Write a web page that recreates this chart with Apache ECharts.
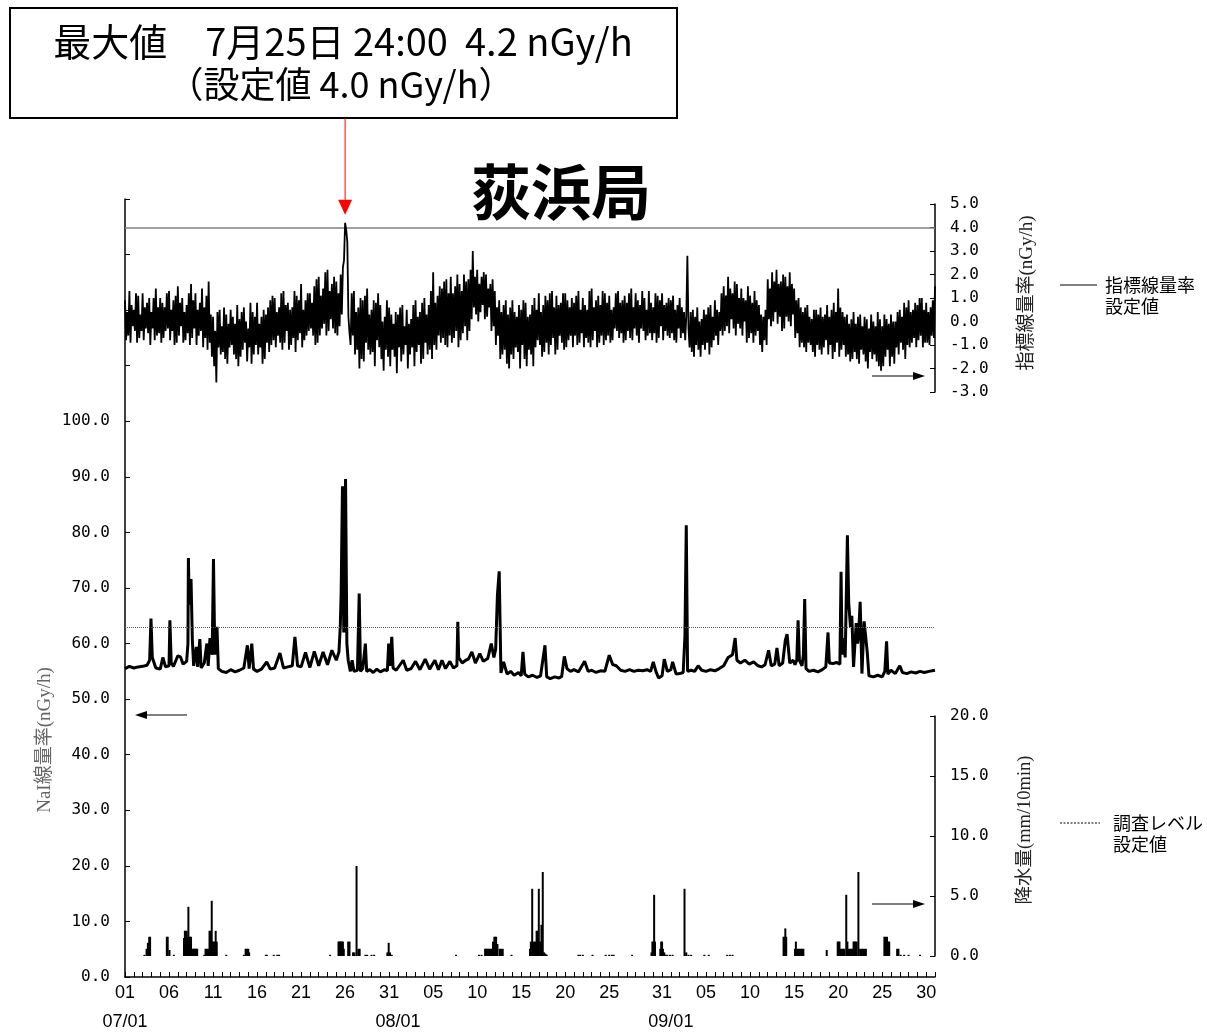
<!DOCTYPE html>
<html><head><meta charset="utf-8">
<script src="https://cdn.jsdelivr.net/npm/echarts@6/dist/echarts.min.js"></script>
<style>html,body{margin:0;padding:0;background:#fff}#c{width:1207px;height:1032px}</style>
</head><body><div id="c"></div>
<script>
// ---- data (x unit: days since 07/01 00:00) ----
const stationName = '荻浜局';
const maxLine1 = '最大値　7月25日 24:00  4.2 nGy/h';
const maxLine2 = '（設定値 4.0 nGy/h）';
const indicatorSetting = 4.0;       // 指標線量率 設定値
const naiInvestigationLevel = 62.9; // 調査レベル 設定値

// 指標線量率, 8 samples per day (3-hourly) + final 10/01 00:00
const indicatorRate = [
 0.9,-0.8,0.4,-0.6,1.3,-0.9,0.7,-0.2,  0.5,-0.4,1.2,-0.9,1.1,-0.7,0.3,-0.4,
 1.2,-0.8,0.6,-0.3,0.8,-0.5,1.0,-1.0,  0.4,-0.3,1.0,-0.8,1.4,-0.6,0.6,-0.5,
 1.0,-0.9,0.8,-0.7,0.6,-0.4,1.2,-0.3,  1.3,-0.8,0.5,-0.4,0.9,-1.0,1.1,-0.9,
 1.5,-0.6,0.8,-0.2,1.0,-0.9,0.4,-0.8,  0.7,-0.5,1.2,-1.0,1.6,-0.7,0.9,-0.3,
 1.2,-1.0,0.5,-0.6,0.8,-0.4,1.4,-1.1,  0.6,-0.7,1.1,-1.2,1.7,-0.9,0.3,-1.5,
 0.2,-1.9,-0.4,-2.6,0.4,-1.1,0.5,-1.4,  -0.2,-1.3,0.6,-1.6,0.3,-1.8,-0.1,-1.1,
 0.5,-1.0,0.2,-1.4,-0.1,-1.6,0.7,-1.9,  0.1,-1.5,0.4,-1.2,0.6,-0.9,0.0,-1.7,
 -0.3,-1.1,0.8,-1.8,0.4,-1.4,0.2,-1.0,  0.8,-1.4,-0.1,-1.1,0.2,-1.8,0.5,-1.6,
 0.3,-0.9,0.6,-1.3,0.9,-1.0,1.1,-0.8,  1.0,-1.1,0.4,-0.6,0.6,-0.9,1.2,-1.2,
 1.3,-0.9,0.7,-0.4,0.8,-1.2,0.5,-1.0,  0.6,-0.7,1.3,-1.3,1.1,-0.8,0.9,-0.5,
 1.6,-1.1,0.5,-0.8,0.9,-0.6,1.2,-0.4,  1.2,-0.3,0.8,-0.6,1.5,-1.0,1.8,-0.9,
 1.9,-0.6,1.1,-0.3,1.4,-0.1,2.1,-0.6,  2.2,-0.4,1.3,0.1,1.6,-0.3,1.9,-0.5,
 1.7,-0.6,1.2,-0.2,2.0,0.3,2.3,2.6,  4.2,3.9,3.4,0.2,-0.5,-1.0,1.2,-0.6,
 1.3,-1.4,0.4,-1.2,0.6,-2.0,1.0,-1.6,  0.9,-1.7,1.1,-0.9,1.4,-1.2,0.3,-1.4,
 0.5,-1.3,0.9,-1.9,0.8,-0.8,1.2,-1.1,  0.7,-1.6,0.0,-2.1,0.2,-1.2,0.9,-1.5,
 0.6,-1.9,0.3,-1.2,-0.1,-1.5,0.4,-2.2,  0.3,-1.1,0.6,-1.7,0.7,-1.4,-0.2,-1.0,
 0.5,-2.0,-0.1,-1.4,0.1,-1.1,0.7,-1.9,  0.9,-1.3,0.2,-1.0,0.4,-1.8,0.8,-1.6,
 1.0,-0.9,0.3,-1.4,0.7,-1.2,1.3,-1.6,  2.1,-1.0,0.8,-1.2,1.1,-0.6,1.5,-0.9,
 1.4,-0.7,1.7,-1.0,1.8,-1.1,1.2,-0.6,  1.9,-0.9,1.2,-0.7,1.5,-0.4,2.0,-1.1,
 1.6,-0.8,1.3,-0.5,2.0,-0.2,1.7,-0.8,  1.8,-0.4,2.2,0.1,3.0,0.6,1.9,0.3,
 2.2,0.0,1.6,0.4,1.9,0.7,2.1,0.1,  2.0,0.2,1.4,0.6,1.6,-0.4,1.8,-0.2,
 1.3,-1.0,0.6,-0.6,0.9,-1.6,0.4,-1.4,  0.7,-1.2,0.9,-1.8,0.3,-2.0,0.6,-1.4,
 0.9,-1.6,0.4,-1.1,0.2,-1.3,0.7,-2.0,  0.5,-1.0,0.9,-1.6,0.8,-1.9,0.2,-1.2,
 0.3,-1.4,0.7,-1.9,1.0,-1.1,0.5,-0.8,  1.2,-1.0,0.4,-1.5,0.7,-1.3,1.1,-0.9,
 0.9,-1.4,1.2,-1.0,1.3,-0.7,0.6,-1.4,  1.1,-1.2,0.7,-0.6,0.8,-0.9,1.2,-1.2,
 1.2,-1.1,0.9,-0.8,0.6,-0.6,1.0,-1.1,  0.8,-0.6,1.1,-1.0,1.3,-0.9,0.5,-0.5,
 1.0,-1.1,0.7,-0.7,0.5,-0.9,1.3,-1.1,  1.4,-0.8,0.6,-0.4,0.9,-1.1,1.1,-0.9,
 0.7,-0.6,1.3,-1.0,1.2,-0.8,0.8,-0.6,  1.1,-0.9,0.5,-0.8,0.6,-0.3,1.2,-0.4,
 1.3,-0.7,0.8,-0.5,0.9,-0.9,1.1,-0.8,  0.8,-0.4,1.2,-0.7,1.4,-0.8,0.6,-0.3,
 1.2,-0.6,0.9,-0.9,0.7,-0.3,1.3,-0.4,  1.0,-0.8,0.5,-0.6,1.3,-0.5,0.8,-0.8,
 0.6,-0.5,1.2,-0.9,1.1,-0.7,0.9,-0.2,  1.2,-0.8,0.7,-0.4,0.8,-0.6,1.0,-0.7,
 0.9,-0.5,1.1,-0.8,0.5,-0.9,0.7,-0.3,  1.0,-0.7,0.6,-0.5,0.4,-0.8,0.2,2.8,
 -0.3,-1.1,0.4,-1.3,0.5,-1.5,0.2,-1.0,  0.6,-1.2,0.0,-1.5,0.1,-1.0,0.5,-1.2,
 0.3,-0.9,0.6,-1.4,0.7,-1.1,0.2,-0.8,  0.9,-0.6,0.5,-1.0,0.4,-0.4,1.2,-0.6,
 1.5,-0.4,1.1,-0.2,1.9,-0.5,1.4,0.1,  1.2,-0.3,1.7,-0.6,1.6,-0.1,1.0,-0.3,
 1.4,-0.6,1.0,0.0,0.9,-0.9,1.5,-0.7,  1.1,-0.5,0.8,-0.9,1.3,-0.6,0.9,-0.4,
 0.7,-1.0,0.3,-1.3,0.2,-0.8,0.5,-1.0,  1.8,0.1,1.4,-0.2,2.1,0.0,1.7,0.4,
 2.2,-0.1,1.6,0.2,1.7,-0.4,2.0,-0.3,  1.9,0.2,1.5,0.0,2.1,-0.2,1.6,0.3,
 1.4,-0.7,0.9,-0.5,1.0,-1.1,0.6,-0.9,  0.4,-1.1,0.6,-1.3,0.7,-0.9,0.2,-1.0,
 0.1,-1.3,0.5,-1.5,0.5,-1.0,0.3,-1.2,  0.6,-1.4,0.2,-1.1,0.3,-0.8,0.7,-1.4,
 0.2,-1.0,0.5,-1.6,0.8,-1.3,0.4,-0.9,  1.4,-1.5,0.6,-1.2,0.4,-1.0,0.2,-1.5,
 0.3,-1.4,-0.1,-1.7,0.1,-1.6,0.4,-1.3,  -0.1,-1.6,0.2,-1.8,0.3,-1.2,-0.2,-1.4,
 0.2,-1.7,0.1,-2.0,-0.3,-1.3,0.3,-1.6,  0.0,-1.4,-0.2,-1.7,0.4,-1.9,0.1,-2.1,
 -0.2,-1.9,0.3,-1.5,0.1,-1.2,-0.1,-1.9,  0.3,-1.5,0.0,-1.8,0.0,-1.1,0.4,-1.4,
 0.5,-0.9,0.2,-1.2,0.8,-1.6,0.6,-1.0,  0.9,-1.1,0.4,-0.9,0.5,-0.7,0.8,-1.1,
 0.7,-0.8,1.0,-0.6,1.0,-1.1,0.5,-0.9,  0.8,-0.9,0.4,-1.0,0.6,-0.6,0.9,-0.7,
 1.5
];
const samplesPerDay = 8;

// NaI線量率 [day, nGy/h]
const naiRate = [
 [0,55.5],[0.5,55.9],[1,55.6],[1.5,55.8],[2,55.9],[2.5,56.1],[2.8,57.0],[2.95,64.5],[3.1,57.5],[3.5,55.6],
 [4,55.4],[4.3,57.5],[4.6,55.8],[5,56.0],[5.1,64.2],[5.25,56.5],[5.5,55.9],[6,57.8],[6.3,57.6],[6.6,56.3],
 [7,56.8],[7.15,60.0],[7.2,75.4],[7.3,67.0],[7.5,71.6],[7.65,60.6],[7.8,56.0],[8.1,59.4],[8.25,55.8],[8.5,60.8],
 [8.65,55.6],[9,56.5],[9.3,60.0],[9.45,56.0],[9.65,61.0],[9.9,58.0],[10.05,75.2],[10.2,58.0],[10.45,63.0],[10.6,55.5],
 [11,55.0],[11.5,54.8],[12,55.3],[12.5,54.9],[13,55.2],[13.5,55.6],[13.9,59.7],[14.1,55.5],[14.4,60.0],[14.6,55.4],
 [15,55.0],[15.5,55.4],[16.1,56.7],[16.5,55.4],[17,55.6],[17.6,58.3],[18,55.6],[18.5,55.8],[19,56.0],[19.3,61.2],
 [19.6,56.0],[20,55.8],[20.5,58.4],[21,55.7],[21.5,58.6],[22,56.0],[22.5,58.5],[23,56.2],[23.5,58.8],[24,57.0],
 [24.3,58.5],[24.45,63.0],[24.55,69.0],[24.7,88.3],[24.85,62.0],[25.05,89.6],[25.2,60.0],[25.35,57.0],[25.6,55.0],[25.8,57.0],
 [26,55.0],[26.4,55.2],[26.6,69.0],[26.75,55.0],[27,55.5],[27.3,60.0],[27.45,55.0],[27.8,55.3],[28.2,54.8],[28.6,55.4],
 [29,54.9],[29.5,55.3],[29.8,55.1],[29.95,60.0],[30.1,56.0],[30.3,61.2],[30.45,55.6],[30.8,55.2],[31,55.4],[31.6,57.0],
 [32,55.2],[32.5,55.5],[33,56.8],[33.5,55.3],[34.1,57.2],[34.6,55.4],[35.2,57.0],[35.6,55.3],[36,57.0],[36.4,55.5],
 [36.9,56.8],[37.3,55.6],[37.7,56.0],[37.8,63.9],[37.9,57.5],[38.3,56.5],[38.7,57.0],[39.0,57.2],[39.4,58.5],[39.8,56.5],
 [40.3,58.2],[40.7,56.8],[41.2,57.3],[41.6,60.0],[41.9,57.5],[42.1,59.0],[42.3,68.7],[42.5,73.0],[42.7,54.7],[43,56.7],
 [43.4,54.5],[43.8,55.0],[44.2,54.3],[44.7,54.8],[45,54.2],[45.2,58.5],[45.4,54.5],[45.8,54.0],[46.3,54.3],[46.8,53.9],
 [47.2,54.2],[47.7,59.7],[47.9,54.0],[48.3,53.7],[48.8,54.0],[49.3,53.8],[49.6,54.1],[49.9,57.7],[50.2,55.5],[50.6,55.0],
 [51,55.3],[51.5,54.9],[52.2,56.8],[52.6,55.0],[53,55.2],[53.5,54.8],[54,55.1],[54.5,55.0],[55,57.9],[55.4,56.2],
 [55.8,56.0],[56.3,55.2],[56.8,55.0],[57.3,55.3],[57.8,55.0],[58.3,55.2],[58.8,55.1],[59.3,55.3],[59.7,55.0],[60.0,56.7],
 [60.3,55.0],[60.6,53.8],[61,54.2],[61.25,57.2],[61.6,55.0],[62,55.3],[62.2,56.7],[62.6,54.5],[63,54.6],[63.4,54.8],
 [63.6,61.5],[63.75,81.3],[63.9,55.0],[64.3,55.2],[64.7,55.0],[65.1,56.0],[65.5,55.2],[66,55.0],[66.5,55.3],[67,55.1],
 [67.5,55.5],[68.0,56.0],[68.5,57.5],[69,58.0],[69.3,61.0],[69.5,57.0],[69.9,56.5],[70.4,57.0],[70.9,56.3],[71.4,56.7],
 [71.9,56.0],[72.3,55.8],[72.7,56.2],[73.1,58.8],[73.4,56.0],[73.8,56.3],[74.05,59.2],[74.3,56.0],[74.7,56.5],[75.0,60.6],
 [75.2,61.7],[75.5,56.5],[75.9,57.0],[76.1,56.2],[76.3,57.0],[76.45,64.2],[76.6,57.0],[76.9,56.0],[77.05,58.0],[77.2,68.0],
 [77.35,55.5],[77.7,55.0],[78.2,55.2],[78.7,54.9],[79.2,55.3],[79.6,55.8],[79.85,62.0],[80.0,56.5],[80.4,56.4],[80.8,56.6],
 [81.2,56.3],[81.33,72.9],[81.45,58.0],[81.6,61.0],[81.8,57.5],[82.05,79.5],[82.2,67.3],[82.4,63.0],[82.55,65.0],[82.75,55.8],
 [83.05,63.7],[83.2,60.0],[83.3,61.0],[83.5,67.5],[83.7,54.6],[83.95,64.0],[84.3,58.5],[84.5,54.2],[85,54.0],[85.5,54.3],
 [86,54.0],[86.3,55.0],[86.5,60.4],[86.65,54.5],[87,55.2],[87.5,54.6],[88,56.0],[88.3,54.8],[88.8,54.6],[89.3,54.9],
 [89.8,54.7],[90.3,55.0],[90.8,54.8],[91.3,55.0],[92,55.2]
];

// 降水量 [day, mm/10min]
const rainfall = [
 [2.2,0.1],[2.45,0.6],[2.6,1.1],[2.75,1.6],[2.85,1.6],[4.75,1.6],[4.85,1.6],[5.05,0.5],[5.55,0.1],
 [6.7,1.5],[6.8,2.1],[6.9,2.1],[7.0,2.1],[7.1,1.6],[7.2,4.1],[7.3,1.6],[7.4,1.6],[7.5,1.6],
 [7.7,0.6],[7.8,0.6],[7.9,0.6],[8.0,0.6],[8.1,0.6],[8.2,0.6],
 [9.0,0.1],[9.15,0.6],[9.3,0.6],[9.45,0.6],[9.6,2.1],[9.7,2.1],[9.85,4.6],[10.0,1.2],[10.15,1.2],[10.3,2.1],[10.42,1.2],
 [11.5,0.1],[13.5,0.1],[13.7,0.6],[13.85,0.6],[14.0,0.6],[14.1,0.3],
 [16.0,0.1],[16.1,0.1],[16.9,0.1],[17.3,0.1],[17.5,0.1],[23.3,0.1],
 [24.25,1.2],[24.35,1.2],[24.45,1.2],[24.55,1.2],[24.65,1.2],[24.75,1.2],[24.85,0.6],[25.35,1.2],[25.5,1.2],
 [25.9,0.3],[26.05,0.3],[26.3,7.5],[26.5,0.6],[26.65,0.6],[27.3,0.1],[27.5,0.1],[28.0,0.1],[28.3,0.1],
 [29.8,0.3],[29.95,1.1],[30.1,0.3],[30.3,0.1],[37.6,0.1],[40.2,0.1],[40.5,0.1],
 [40.9,0.6],[41.0,0.6],[41.1,0.6],[41.2,0.6],[41.35,0.6],[41.5,0.6],[41.65,0.6],[41.8,1.2],
 [41.95,1.6],[42.05,1.6],[42.15,1.6],[42.3,1.0],[42.55,0.6],[42.7,0.6],[42.9,0.6],[43.9,0.1],
 [46.0,0.6],[46.1,1.2],[46.25,5.6],[46.45,1.2],[46.6,1.2],[46.75,2.1],[46.85,2.1],[47.0,5.6],[47.15,1.2],
 [47.3,2.6],[47.45,7.0],[47.6,0.3],[47.75,0.2],[47.9,0.1],
 [51.5,0.1],[51.7,0.1],[52.0,0.1],[53.1,0.1],[54.6,0.1],[55.0,0.1],[55.3,0.1],[55.5,0.1],[57.6,0.1],
 [59.8,0.3],[59.9,1.2],[60.0,1.2],[60.1,5.1],[60.2,1.2],[60.8,0.6],[60.9,1.2],[61.0,1.2],[61.1,0.6],[61.25,0.3],[61.4,0.1],
 [61.6,0.1],[61.9,0.1],[62.2,0.1],[63.55,5.6],[63.75,0.3],[64.0,0.1],[64.3,0.1],[65.8,0.1],[66.3,0.1],
 [68.4,0.1],[68.7,0.1],[69.0,0.1],
 [74.8,1.6],[74.9,1.6],[75.0,2.3],[75.1,1.6],
 [76.1,0.6],[76.2,1.2],[76.3,0.6],[76.45,0.6],[76.6,0.6],[76.75,0.6],[76.9,0.6],[77.05,0.6],[79.7,0.5],
 [80.95,1.2],[81.05,1.2],[81.15,1.2],[81.3,0.6],[81.45,0.6],[81.6,0.6],[81.7,0.6],[81.92,5.1],[82.05,1.2],
 [82.15,0.6],[82.3,0.6],[82.45,0.6],[82.6,0.6],[82.75,1.2],[82.85,1.2],[82.95,1.2],[83.1,1.2],[83.3,7.0],
 [83.5,0.6],[83.7,0.6],[83.85,0.6],[84.0,0.6],[84.15,0.6],
 [86.25,1.6],[86.35,1.6],[86.45,1.2],[86.55,1.6],[86.7,1.2],[86.8,1.2],[87.7,0.6],[87.85,0.6],
 [88.1,0.1],[88.5,0.1],[89.0,0.1],[90.3,0.1]
];

// tick labels
const dayLabelAt = [0,5,10,15,20,25,30,35,40,45,50,55,61,66,71,76,81,86,91];
const dayLabels = ['01','06','11','16','21','26','31','05','10','15','20','25','31','05','10','15','20','25','30'];
const monthLabelAt = [0,31,62];
const monthLabels = ['07/01','08/01','09/01'];

// ---- chart ----
const CJK = '"Noto Sans CJK JP", sans-serif';
const MONO = '"DejaVu Sans Mono", monospace';
const NAMEFONT = '"Liberation Serif", "Noto Sans CJK JP", serif';

function fmtX(v) {
  const d = Math.round(v);
  const i = dayLabelAt.indexOf(d), j = monthLabelAt.indexOf(d);
  if (i < 0 && j < 0) return '';
  return (i >= 0 ? dayLabels[i] : '') + '\n\n' + (j >= 0 ? monthLabels[j] : '');
}
function yAx(grid, pos, min, max, interval, fmt) {
  return {
    gridIndex: grid, type: 'value', position: pos, min, max, interval,
    axisLine: {show: true, onZero: false, lineStyle: {color: '#000', width: 1.5}},
    axisTick: {show: true, inside: true, length: 5, lineStyle: {color: '#000', width: 1}},
    axisLabel: {margin: 15, fontSize: 16, fontFamily: MONO, color: '#000', formatter: fmt},
    splitLine: {show: false}
  };
}
function txt(x, y, text, size, extra) {
  return {type: 'text', x, y, silent: true,
    style: Object.assign({text, fontSize: size, fontFamily: CJK, fill: '#000',
      align: 'left', verticalAlign: 'middle', textAlign: 'left', textVerticalAlign: 'middle'}, extra || {})};
}
function arrow(x1, y1, x2, y2, color, head, halfW, lw) {
  const dx = x2 - x1, dy = y2 - y1, len = Math.hypot(dx, dy), ux = dx / len, uy = dy / len;
  const bx = x2 - ux * head, by = y2 - uy * head;
  return [
    {type: 'line', silent: true, shape: {x1, y1, x2: bx, y2: by}, style: {stroke: color, lineWidth: lw}},
    {type: 'polygon', silent: true, shape: {points: [[x2, y2], [bx - uy * halfW, by + ux * halfW], [bx + uy * halfW, by - ux * halfW]]}, style: {fill: color}}
  ];
}

const chart = echarts.init(document.getElementById('c'), null, {width: 1207, height: 1032});
const hiddenX = g => ({gridIndex: g, type: 'value', min: 0, max: 92, show: false});
const C = {align: 'center', textAlign: 'center'};

const graphics = [
  {type: 'rect', silent: true, shape: {x: 10, y: 8, width: 667, height: 110}, style: {fill: '#fff', stroke: '#000', lineWidth: 2}},
  txt(343, 42, maxLine1, 38, C),
  txt(341, 84, maxLine2, 36, C),
  txt(561, 192, stationName, 60, Object.assign({fontWeight: 'bold'}, C)),
  Object.assign(txt(45, 740, 'NaI線量率(nGy/h)', 19, Object.assign({fontFamily: NAMEFONT, fill: '#666'}, C)), {rotation: Math.PI / 2}),
  Object.assign(txt(1027, 293, '指標線量率(nGy/h)', 19, Object.assign({fontFamily: NAMEFONT, fill: '#222'}, C)), {rotation: Math.PI / 2}),
  Object.assign(txt(1025, 830, '降水量(mm/10min)', 18.5, Object.assign({fontFamily: NAMEFONT, fill: '#222'}, C)), {rotation: Math.PI / 2}),
  {type: 'line', silent: true, shape: {x1: 1060, y1: 285, x2: 1097, y2: 285}, style: {stroke: '#000', lineWidth: 1.2}},
  txt(1105, 285, '指標線量率', 18),
  txt(1105, 306, '設定値', 18),
  {type: 'line', silent: true, shape: {x1: 1060, y1: 823, x2: 1100, y2: 823}, style: {stroke: '#000', lineWidth: 1, lineDash: [2, 1.5]}},
  txt(1113, 823, '調査レベル', 18),
  txt(1113, 844, '設定値', 18)
].concat(arrow(872, 376, 925, 376, '#000', 12, 4, 1.2))
 .concat(arrow(187, 715, 135, 715, '#000', 12, 4, 1.2))
 .concat(arrow(872, 904, 925, 904, '#000', 12, 4, 1.2));

chart.setOption({
  animation: false,
  backgroundColor: '#fff',
  grid: [
    {left: 125, top: 199, width: 810, height: 778},
    {left: 125, top: 204, width: 810, height: 188},
    {left: 125, top: 716, width: 810, height: 240}
  ],
  xAxis: [
    {gridIndex: 0, type: 'value', min: 0, max: 92, interval: 1,
     axisLine: {onZero: false, lineStyle: {color: '#000', width: 1.5}},
     axisTick: {inside: true, length: 5, lineStyle: {color: '#000', width: 1}},
     axisLabel: {margin: 9, fontSize: 18, fontFamily: '"Liberation Sans", sans-serif', color: '#000', lineHeight: 14.5, formatter: fmtX, showMinLabel: true, showMaxLabel: true},
     splitLine: {show: false}},
    hiddenX(1), hiddenX(2)
  ],
  yAxis: [
    yAx(0, 'left', 0, 140, 10, v => v > 100 ? '' : v.toFixed(1)),
    yAx(1, 'right', -3, 5, 1, v => v.toFixed(1)),
    yAx(2, 'right', 0, 20, 5, v => v.toFixed(1))
  ],
  series: [
    {type: 'line', name: '指標線量率', xAxisIndex: 1, yAxisIndex: 1, symbol: 'none', z: 3,
     data: indicatorRate.map((v, i) => [i / samplesPerDay, v]),
     lineStyle: {color: '#000', width: 1.8},
     markLine: {silent: true, symbol: ['none', 'none'], label: {show: false}, z: 2,
       lineStyle: {color: '#808080', type: 'solid', width: 1.5}, data: [{yAxis: indicatorSetting}]}},
    {type: 'line', name: 'NaI線量率', xAxisIndex: 0, yAxisIndex: 0, symbol: 'none', z: 3,
     data: naiRate, lineStyle: {color: '#000', width: 3},
     markLine: {silent: true, symbol: ['none', 'none'], label: {show: false},
       lineStyle: {color: '#555', type: 'dotted', width: 1}, data: [{yAxis: naiInvestigationLevel}]}},
    {type: 'bar', name: '降水量', xAxisIndex: 2, yAxisIndex: 2, barWidth: 2,
     data: rainfall, itemStyle: {color: '#000'}}
  ],
  graphic: graphics
});

// red arrow pointing at the maximum of the indicator series
let mi = 0;
indicatorRate.forEach((v, i) => { if (v > indicatorRate[mi]) mi = i; });
const p = chart.convertToPixel({xAxisIndex: 1, yAxisIndex: 1}, [mi / samplesPerDay, indicatorRate[mi]]);
chart.setOption({graphic: graphics.concat(arrow(p[0], 118, p[0], p[1] - 8, '#ff0000', 15, 7, 1))});
</script></body></html>
